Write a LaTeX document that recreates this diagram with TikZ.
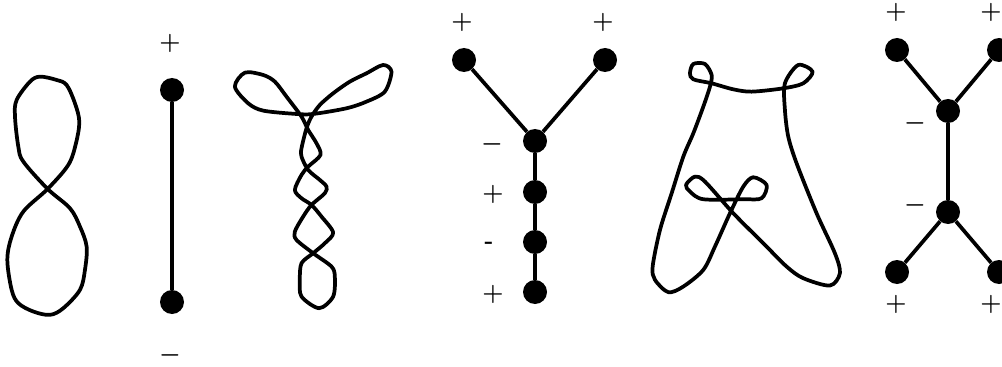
\documentclass[tikz,border=0pt]{standalone}
\usepackage{amsmath, amssymb}
\usetikzlibrary{positioning}
\tikzset{
  dot/.style={circle, fill=black, draw=none, minimum size=0.72cm, inner sep=0pt},
  edge/.style={line width=0.112cm, black},
  curve/.style={line width=0.112cm, black, line join=round},
  sign/.style={inner sep=0pt, font=\fontsize{20}{24}\selectfont\boldmath},
}

\begin{document}
\begin{tikzpicture}[x=0.03cm,y=-0.03cm]
  \useasboundingbox (0,0) rectangle (1002,367);
  % figure eight
  \begin{scope}[shift={(0,50)},x=0.01cm,y=-0.01cm]
    \draw[curve] plot[smooth cycle,tension=0.55] coordinates {
      (143,417) (205,345) (228,280) (238,215) (225,160) (200,105) (170,90) (120,80) (90,95)
      (50,150) (45,200) (55,290) (70,335) (143,417) (210,475) (240,530) (260,590) (255,660)
      (240,720) (190,775) (150,795) (100,785) (55,760) (35,720) (22,630) (35,560) (70,485)};
  \end{scope}
  % single segment
  \node[dot] (a1) at (172,90) {};
  \node[dot] (a2) at (172,302) {};
  \draw[edge] (a1) -- (a2);
  \node[sign] (sa1) at (170,43) {$+$};
  \node[sign] (sa2) at (170,355) {$-$};
  % twisted curve
  \begin{scope}[shift={(0,50)},x=0.01cm,y=-0.01cm]
    \draw[curve] plot[smooth cycle,tension=0.5] coordinates {
      (705,110) (735,68) (790,75) (825,95) (860,140) (905,200) (925,240) (950,280) (962,315)
      (925,350) (905,375) (885,420) (905,445) (935,465) (965,500) (1000,548) (975,580)
      (940,610) (905,640) (900,690) (905,740) (958,775) (1000,740) (1005,680) (995,650)
      (940,610) (890,570) (885,545) (910,500) (935,465) (975,430) (980,410) (960,390)
      (925,360) (905,320) (905,295) (920,235) (935,200) (960,165) (1000,130) (1050,95)
      (1100,70) (1150,45) (1175,65) (1155,125) (1100,155) (1040,175) (940,192) (890,192)
      (790,182) (745,160)};
  \end{scope}
  % tree with chain
  \node[dot] (b1) at (464,60) {};
  \node[dot] (b2) at (605,60) {};
  \node[dot] (b3) at (535,141) {};
  \node[dot] (b4) at (535,192) {};
  \node[dot] (b5) at (535,242) {};
  \node[dot] (b6) at (535,292) {};
  \draw[edge] (b1) -- (b3);
  \draw[edge] (b2) -- (b3);
  \draw[edge] (b3) -- (b4) -- (b5) -- (b6);
  \node[sign] (sb1) at (462,22) {$+$};
  \node[sign] (sb2) at (603,22) {$+$};
  \node[sign] (sb3) at (492,144) {$-$};
  \node[sign] (sb4) at (493,194) {$+$};
  \node[sign] (sb5) at (489,245) {\bfseries-};
  \node[sign] (sb6) at (493,294) {$+$};
  % loop with small kinks
  \begin{scope}[shift={(640,50)},x=0.01cm,y=-0.01cm]
    \draw[curve] plot[smooth cycle,tension=0.5] coordinates {
      (150,70) (160,42) (195,42) (215,75) (210,110) (190,170) (160,250) (130,320) (95,430)
      (60,540) (38,650) (45,690) (85,727) (130,710) (190,660) (225,590) (270,490) (310,410)
      (340,382) (380,405) (365,445) (310,448) (190,448) (150,425) (138,405) (165,380)
      (195,395) (280,490) (370,580) (440,650) (490,685) (570,707) (600,670) (585,610)
      (530,490) (470,340) (445,260) (435,180) (435,100) (475,45) (518,65) (490,100)
      (430,115) (335,125) (280,118) (215,100) (160,88)};
  \end{scope}
  % H tree
  \node[dot] (c1) at (897,50) {};
  \node[dot] (c2) at (999,50) {};
  \node[dot] (c3) at (948,111) {};
  \node[dot] (c4) at (948,212) {};
  \node[dot] (c5) at (897,272) {};
  \node[dot] (c6) at (999,272) {};
  \draw[edge] (c1) -- (c3);
  \draw[edge] (c2) -- (c3);
  \draw[edge] (c3) -- (c4);
  \draw[edge] (c4) -- (c5);
  \draw[edge] (c4) -- (c6);
  \node[sign] (sc1) at (896,12) {$+$};
  \node[sign] (sc2) at (991,12) {$+$};
  \node[sign] (sc3) at (915,123) {$-$};
  \node[sign] (sc4) at (915,205) {$-$};
  \node[sign] (sc5) at (896,304) {$+$};
  \node[sign] (sc6) at (991,304) {$+$};
\end{tikzpicture}
\end{document}
